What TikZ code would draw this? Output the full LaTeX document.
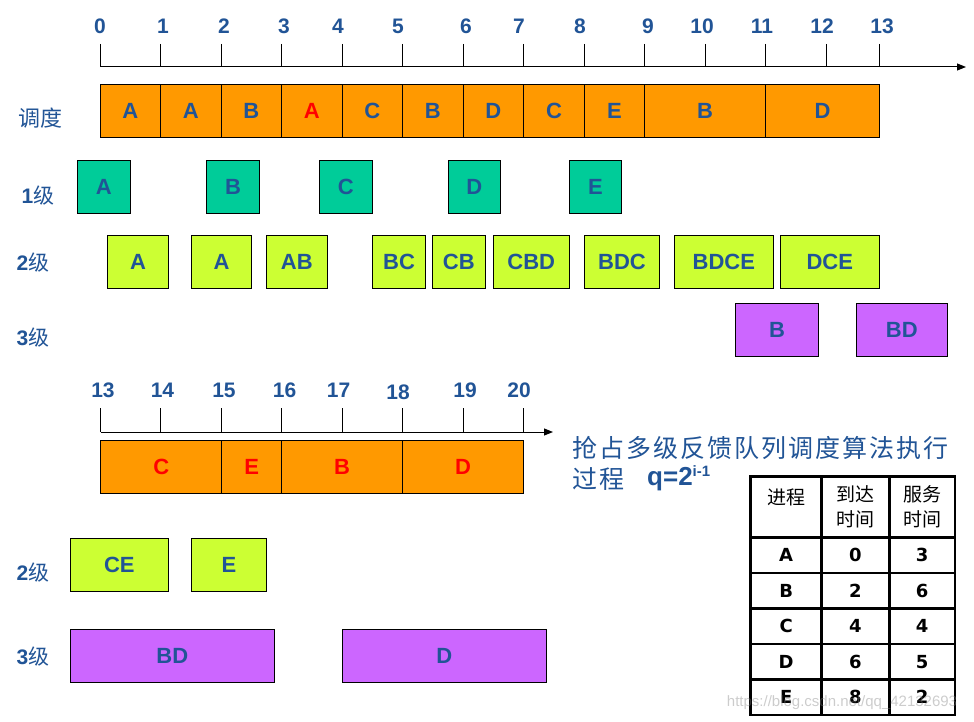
\documentclass[tikz,border=0pt]{standalone}
\usepackage{fontspec}
\setmainfont{Liberation Sans}
\newfontfamily\cjk{Noto Sans CJK SC}
\newfontfamily\cjkwide[LetterSpace=8]{Noto Sans CJK SC}
\newfontfamily\tabfont{DejaVu Sans}
\usepackage{tikz}
\usetikzlibrary{arrows.meta, positioning, calc}
\definecolor{labelblue}{RGB}{33,84,150}
\definecolor{runorange}{RGB}{255,153,0}
\definecolor{qonegreen}{RGB}{0,204,153}
\definecolor{qtwolime}{RGB}{204,255,51}
\definecolor{qthreeviolet}{RGB}{204,102,255}

\tikzset{
  qcell/.style={draw, line width=1pt, inner sep=0pt, outer sep=0pt, minimum height=53pt,
    text=labelblue, font=\fontsize{22}{22}\selectfont\bfseries},
  runbox/.style={qcell, fill=runorange},
  lvone/.style={qcell, fill=qonegreen},
  lvtwo/.style={qcell, fill=qtwolime},
  lvthree/.style={qcell, fill=qthreeviolet},
  ticklbl/.style={text=labelblue, inner sep=0pt, font=\fontsize{21}{21}\selectfont\bfseries},
  rowlbl/.style={text=labelblue, inner sep=0pt, font=\fontsize{21}{21}\selectfont\bfseries},
  tabcell/.style={inner sep=0pt, font=\tabfont\fontsize{18}{18}\selectfont\bfseries},
  tabhead/.style={inner sep=0pt, align=center, font=\cjk\fontsize{19}{25}\selectfont},
}

% name, style, left, right, top, text
\newcommand{\qslot}[6]{%
  \pgfmathsetmacro{\slotw}{#4-#3}%
  \pgfmathsetmacro{\slotx}{(#3+#4)/2}%
  \node[#2, minimum width=\slotw pt] (#1) at (\slotx,#5+26.5) {#6};}

\begin{document}
\begin{tikzpicture}[x=1pt, y=-1pt, >={Triangle[length=9pt,width=7pt]}]
    \useasboundingbox (0,0) rectangle (974,722);

    \coordinate (axa) at (100,67);
    \coordinate (axb) at (966,67);
    \draw[->, line width=1pt] (axa) -- (axb);
    \foreach \x/\lx/\n in {100/100/0, 160.5/163/1, 221/224/2, 281.5/284/3, 342/338/4, 402.5/398/5,
        463/466/6, 523.5/519/7, 584.5/580/8, 644.5/648/9, 705.5/702/10, 765.5/762/11, 826.5/822/12, 879.5/882/13} {
      \draw[line width=1pt] (\x,44) -- (\x,67);
      \node[ticklbl] (t\n) at (\lx,26.5) {\n};
    }

    \foreach \l/\r/\t [count=\i] in {100/160.5/A, 160.5/221/A, 221/281.5/B, 281.5/342/{\color{red}A},
        342/402.5/C, 402.5/463/B, 463/523.5/D, 523.5/584.5/C, 584.5/644.5/E, 644.5/765.5/B, 765.5/879.5/D}
      \qslot{run\i}{runbox}{\l}{\r}{84.3}{\t};

    \foreach \l/\r/\t [count=\i] in {77.3/130.3/A, 206.3/259.7/B, 319.3/372.3/C, 448.3/500.3/D, 569.3/621.7/E}
      \qslot{one\i}{lvone}{\l}{\r}{160.3}{\t};

    \foreach \l/\r/\t [count=\i] in {107.3/168.7/A, 191.3/251.7/A, 266.3/327.3/AB, 372.3/425.7/BC, 432.3/485.3/CB,
        493.3/569.3/CBD, 584.3/659.7/BDC, 674.3/773.3/BDCE, 780.3/879.3/DCE}
      \qslot{two\i}{lvtwo}{\l}{\r}{235.3}{\t};

    \foreach \l/\r/\t [count=\i] in {735.3/818.7/B, 856.3/947.3/BD}
      \qslot{three\i}{lvthree}{\l}{\r}{303.3}{\t};

    \node[rowlbl, font=\cjk\fontsize{22}{22}\selectfont] (lsched) at (40,118) {调度};
    \node[rowlbl] (lone) at (38,196) {1{\cjk\mdseries 级}};
    \node[rowlbl] (ltwo) at (33,263) {2{\cjk\mdseries 级}};
    \node[rowlbl] (lthree) at (33,338) {3{\cjk\mdseries 级}};

    \coordinate (bxa) at (100.7,432);
    \coordinate (bxb) at (553,432);
    \draw[->, line width=1pt] (bxa) -- (bxb);
    \foreach \x/\lx/\ly/\n in {100.7/103/390/13, 160.7/162.5/390/14, 221.8/224/390/15, 281.8/284.6/390/16,
        342.5/338.6/390/17, 402.5/398/392/18, 463.6/465/390/19, 523.6/519/390/20} {
      \draw[line width=1pt] (\x,408) -- (\x,432);
      \node[ticklbl] (t\n) at (\lx,\ly) {\n};
    }

    \foreach \l/\r/\t [count=\i] in {100.7/221.8/C, 221.8/281.8/E, 281.8/402.5/B, 402.5/523.6/D}
      \qslot{late\i}{runbox, text=red}{\l}{\r}{440.3}{\t};

    \foreach \l/\r/\t [count=\i] in {70.4/168.2/CE, 191.4/266.4/E}
      \qslot{twob\i}{lvtwo}{\l}{\r}{538.3}{\t};

    \foreach \l/\r/\t [count=\i] in {70.4/274.3/BD, 342.1/546.4/D}
      \qslot{threeb\i}{lvthree}{\l}{\r}{629.3}{\t};

    \node[rowlbl] (ltwob) at (33,573) {2{\cjk\mdseries 级}};
    \node[rowlbl] (lthreeb) at (33,657) {3{\cjk\mdseries 级}};

    \node[anchor=west, inner sep=0pt, text=labelblue, font=\cjkwide\fontsize{25}{25}\selectfont] (title) at (572,447.5) {抢占多级反馈队列调度算法执行};
    \node[anchor=west, inner sep=0pt, text=labelblue, font=\cjkwide\fontsize{25}{25}\selectfont] (proc) at (572,479) {过程};
    \node[anchor=base west, inner sep=0pt, text=labelblue, font=\fontsize{26}{26}\selectfont\bfseries] (quant) at (647,485)
      {q=2\raisebox{9pt}{\fontsize{15}{15}\selectfont i-1}};

    \draw[line width=2.5pt] (750.7,476.7) rectangle (955,715);
    \draw[line width=2.5pt] (821.7,476.7) -- (821.7,715) (889.3,476.7) -- (889.3,715);
    \foreach \k in {0,...,4}
      \draw[line width=2.5pt] (750.7,537.3+35.5*\k) -- (955,537.3+35.5*\k);
    \node[tabhead] (hproc) at (786.2,497) {进程};
    \node[tabhead, anchor=north] (harr) at (855.5,485) {到达\\时间};
    \node[tabhead, anchor=north] (hsrv) at (922.2,485) {服务\\时间};
    \foreach \p/\a/\s [count=\r] in {A/0/3, B/2/6, C/4/4, D/6/5, E/8/2} {
      \node[tabcell] (p\r) at (786.2,555.3+35.5*\r-35.5) {\p};
      \node[tabcell] (a\r) at (855.5,555.3+35.5*\r-35.5) {\a};
      \node[tabcell] (s\r) at (922.2,555.3+35.5*\r-35.5) {\s};
    }

    \node[text=gray, opacity=0.4, inner sep=0pt, font=\fontsize{15}{15}\selectfont] (wmark) at (842,703) {https://blog.csdn.net/qq\_42132693};
\end{tikzpicture}
\end{document}
